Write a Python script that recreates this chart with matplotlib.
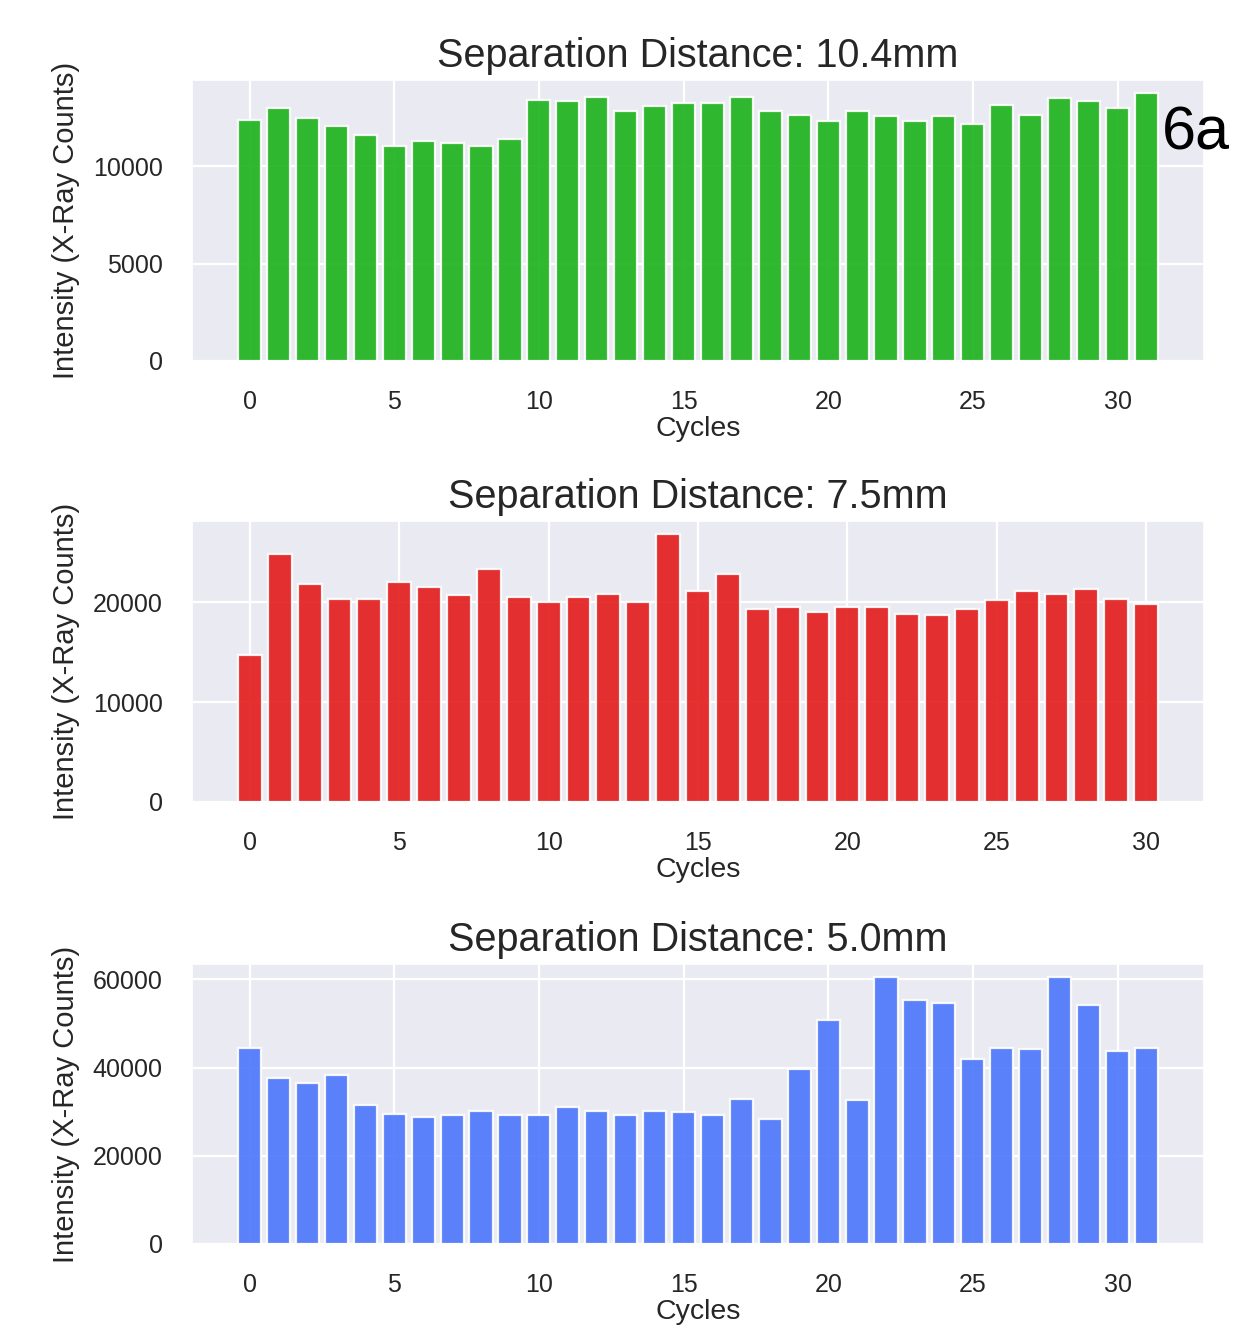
import matplotlib
matplotlib.use('Agg')
import matplotlib.pyplot as plt
import seaborn as sns

# intensity per cycle for each separation distance
cycles_104 = list(range(32))
counts_104 = [12390, 12970, 12460, 12050, 11620, 11030, 11280, 11200,
              11030, 11370, 13400, 13320, 13570, 12820, 13080, 13230,
              13230, 13570, 12820, 12650, 12310, 12820, 12560, 12310,
              12560, 12140, 13150, 12650, 13490, 13320, 12970, 13740]

cycles_75 = list(range(31))
counts_75 = [14730, 24830, 21830, 20330, 20330, 22000, 21530, 20700,
             23370, 20530, 20030, 20530, 20830, 20030, 26800, 21170,
             22830, 19330, 19530, 19030, 19530, 19530, 18870, 18730,
             19330, 20200, 21170, 20870, 21370, 20370, 19870]

cycles_50 = list(range(32))
counts_50 = [44400, 37730, 36600, 38400, 31430, 29550, 28880, 29180,
             30230, 29180, 29180, 31050, 30230, 29180, 30230, 29930,
             29180, 32930, 28430, 39600, 50700, 32550, 60450, 55200,
             54530, 41850, 44400, 44100, 60450, 54150, 43730, 44400]

titles = ['Separation Distance: 10.4mm',
          'Separation Distance: 7.5mm',
          'Separation Distance: 5.0mm']
yticks = [[0, 5000, 10000],
          [0, 10000, 20000],
          [0, 20000, 40000, 60000]]

sns.set_theme(style='darkgrid')
plt.rcParams['font.family'] = ['Liberation Sans', 'DejaVu Sans']
plt.rcParams['grid.linewidth'] = 1.6

fig = plt.figure(figsize=(12.41, 13.30), dpi=100)
ax1 = fig.add_axes([0.1547, 0.7286, 0.8155, 0.2113])
ax2 = fig.add_axes([0.1547, 0.3970, 0.8155, 0.2113])
ax3 = fig.add_axes([0.1547, 0.0647, 0.8155, 0.2105])

panels = [(ax1, cycles_104, counts_104, '#1ab31a'),
          (ax2, cycles_75, counts_75, '#e31b1a'),
          (ax3, cycles_50, counts_50, '#4a76fb')]

for i, (ax, x, y, c) in enumerate(panels):
    ax.bar(x, y, color=c, alpha=0.9, edgecolor='white', linewidth=1.6)
    ax.set_title(titles[i], fontsize=28.5, pad=9, color='.15')
    ax.set_xlabel('Cycles', fontsize=20.5, labelpad=1, color='.15')
    ax.set_ylabel('Intensity (X-Ray Counts)', fontsize=21, labelpad=9, color='.15')
    ax.set_xticks([0, 5, 10, 15, 20, 25, 30])
    ax.set_yticks(yticks[i])
    ax.tick_params(axis='both', length=0, pad=21, labelsize=18, labelcolor='.15')

fig.text(1162 / 1241, 1 - 150 / 1330, '6a', fontsize=44, color='black', va='baseline')

plt.savefig('out.png', dpi=100)
